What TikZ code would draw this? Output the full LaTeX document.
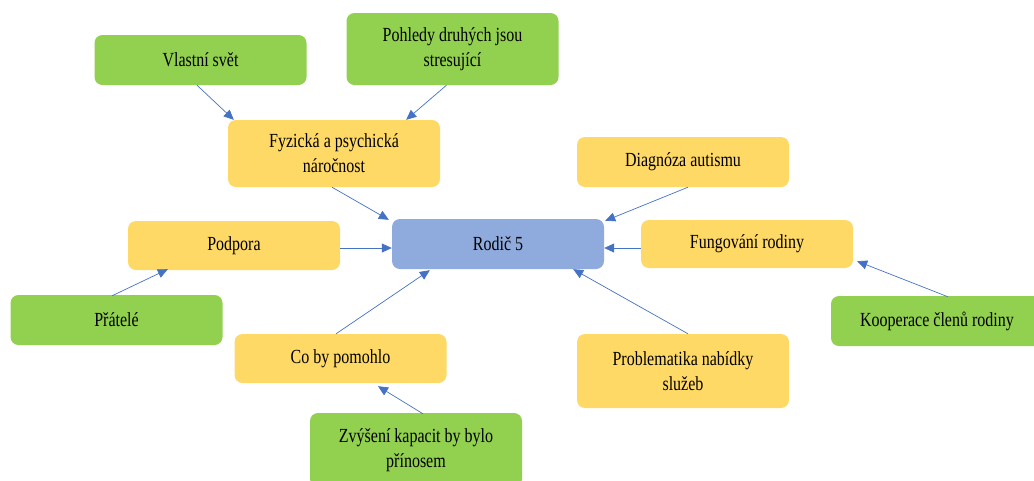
\documentclass[tikz,border=0pt]{standalone}
\usepackage{fontspec}
\setmainfont[FakeStretch=0.8]{Liberation Serif}
\usetikzlibrary{arrows.meta}
\definecolor{leafgreen}{HTML}{92D050}
\definecolor{topicgold}{HTML}{FFD966}
\definecolor{hubblue}{HTML}{8FAADC}
\definecolor{linkblue}{HTML}{4472C4}
\tikzset{
  box/.style={rectangle, rounded corners=8pt, inner sep=0pt, align=center,
    minimum width=212pt, minimum height=#1, text=black,
    font=\fontsize{20}{25}\selectfont},
  leaf/.style={box=#1, fill=leafgreen},
  topic/.style={box=#1, fill=topicgold},
  hub/.style={box=#1, fill=hubblue},
  link/.style={draw=linkblue, line width=0.7pt,
    -{Triangle[length=10pt,width=9pt]}}
}
\begin{document}
\begin{tikzpicture}[x=1pt,y=-1pt]
\useasboundingbox (0,0) rectangle (1034,480);
\fill[white] (0,0) rectangle (1034,480);

% centre
\node[hub=50pt] (ro) at (498,244) {Rodič 5};

% first ring
\node[topic=67pt] (fy) at (334,153.5) {Fyzická a psychická\\náročnost};
\node[topic=50pt] (da) at (683,162) {Diagnóza autismu};
\node[topic=49pt] (po) at (234,245.5) {Podpora};
\node[topic=48pt] (fr) at (747,244) {Fungování rodiny};
\node[topic=49pt] (cb) at (340.5,358.5) {Co by pomohlo};
\node[topic=74pt] (pn) at (683,371) {Problematika nabídky\\služeb};

% outer ring
\node[leaf=50pt] (vs) at (200.5,60) {Vlastní svět};
\node[leaf=72pt] (pd) at (452.5,49) {Pohledy druhých jsou\\stresující};
\node[leaf=50pt] (pr) at (116.5,320) {Přátelé};
\node[leaf=50pt] (ko) at (937,321) {Kooperace členů rodiny};
\node[leaf=74pt] (zk) at (416,450) {Zvýšení kapacit by bylo\\přínosem};

% connectors
\draw[link] ([shift={(-3.5,0)}]vs.south) -- ([shift={(6,0)}]fy.north west);
\draw[link] ([shift={(-6,0)}]pd.south) -- ([shift={(-34,0)}]fy.north east);
\draw[link] ([shift={(-2,0)}]fy.south) -- ([shift={(-3,1)}]ro.north west);
\draw[link] ([shift={(5,0)}]da.south) -- ([shift={(1,2)}]ro.north east);
\draw[link] ([shift={(0,2.5)}]po.east) -- ([shift={(0,4)}]ro.west);
\draw[link] ([shift={(0,4)}]fr.west) -- ([shift={(0,4)}]ro.east);
\draw[link] ([shift={(-4.5,1)}]pr.north) -- ([shift={(40,-1)}]po.south west);
\draw[link] ([shift={(-4.5,0)}]cb.north) -- ([shift={(38,1)}]ro.south west);
\draw[link] ([shift={(5,0)}]pn.north) -- ([shift={(-31,0)}]ro.south east);
\draw[link] ([shift={(11,1)}]ko.north) -- ([shift={(4,-7)}]fr.south east);
\draw[link] ([shift={(7,1)}]zk.north) -- ([shift={(37.5,3)}]cb.south);
\end{tikzpicture}
\end{document}
